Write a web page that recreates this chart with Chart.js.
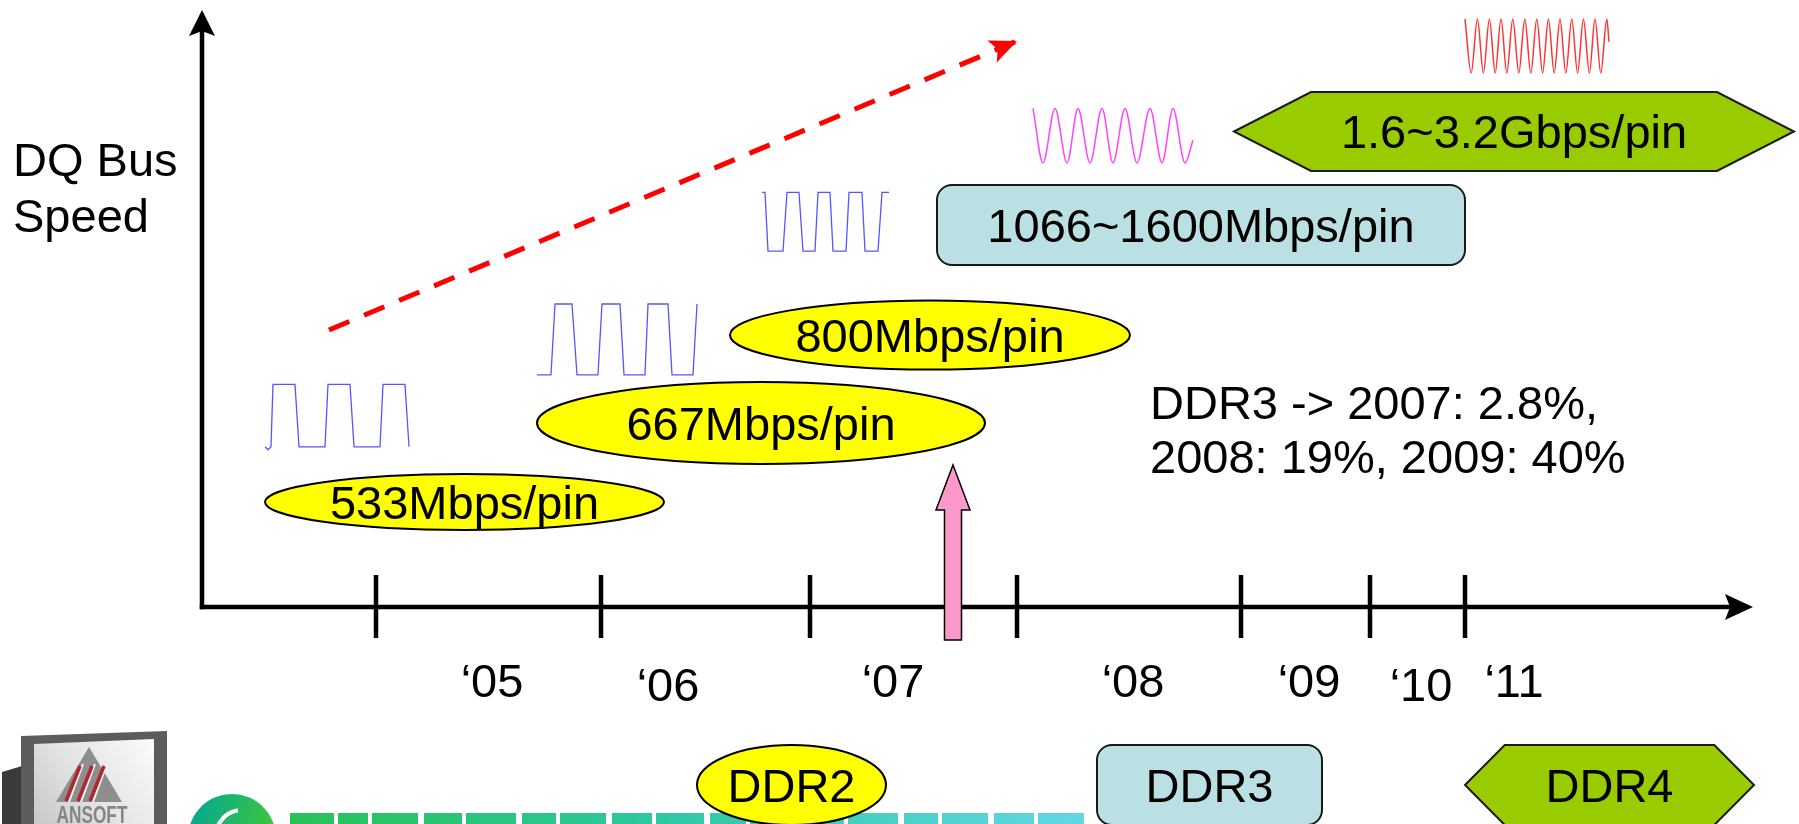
<!DOCTYPE html>
<html>
<head>
<meta charset="utf-8">
<title>DQ Bus Speed roadmap</title>
<script src="https://cdn.jsdelivr.net/npm/chart.js@4/dist/chart.umd.min.js"></script>
<style>
  html, body { margin: 0; padding: 0; background: #ffffff; }
  canvas { display: block; }
</style>
</head>
<body>
<canvas id="roadmap" width="1799" height="824"></canvas>
<script>
// ---- Timeline (x = calendar year, y = relative DQ bus speed) ----
const axisXEnd = 2011.755;
const axisYEnd = 99.5;
const tickYears = [2004.87, 2005.995, 2007.04, 2008.075, 2009.195, 2009.84, 2010.315];
const yearLabels = ['\u201805', '\u201806', '\u201807', '\u201808', '\u201809', '\u201810', '\u201811'];
const yearLabelX = [2005.45, 2006.33, 2007.455, 2008.655, 2009.535, 2010.095, 2010.56];
const yearLabelY = [-15, -15.67, -15, -15, -15, -15.67, -15];

// ---- Speed grades: label, memory family, years covered, speed band ----
const gradeLabel  = ['533Mbps/pin', '667Mbps/pin', '800Mbps/pin', '1066~1600Mbps/pin', '1.6~3.2Gbps/pin'];
const gradeFamily = ['DDR2', 'DDR2', 'DDR2', 'DDR3', 'DDR4'];
const gradeFrom   = [2004.315, 2005.675, 2006.64, 2007.675, 2009.16];
const gradeTo     = [2006.31, 2007.915, 2008.64, 2010.315, 2011.96];
const gradeLow    = [12.83, 23.83, 39.58, 57.0, 72.67];
const gradeHigh   = [22.17, 37.5, 51.08, 70.33, 85.83];

// ---- Family key under the timeline ----
const familyNames = ['DDR2', 'DDR3', 'DDR4'];
const familyFrom  = [2006.475, 2008.475, 2010.315];
const familyTo    = [2007.42, 2009.6, 2011.76];

// ---- Speed trend ----
const trendX = [2004.635, 2008.075];
const trendY = [46.17, 94.33];

// ---- DDR3 introduction marker ----
const ddr3LaunchYear = 2007.755;
const ddr3LaunchTop = 23.67;
const ddr3LaunchBottom = -5.5;

// ---- DDR3 adoption note ----
const noteLines = ['DDR3 -> 2007: 2.8%,', '2008: 19%, 2009: 40%'];
const axisTitle = ['DQ Bus', 'Speed'];

// ---- Sketched DQ waveforms for each speed grade ----
const sig533X = [2004.315, 2004.33, 2004.345, 2004.355, 2004.465, 2004.485, 2004.615, 2004.63, 2004.74, 2004.76, 2004.89, 2004.905, 2005.015, 2005.035];
const sig533Y = [26.7, 26.2, 26.7, 37.1, 37.1, 26.7, 26.7, 37.1, 37.1, 26.7, 26.7, 37.1, 37.1, 26.7];

const sig667X = [2005.675, 2005.745, 2005.765, 2005.85, 2005.875, 2005.98, 2006.0, 2006.09, 2006.11, 2006.215, 2006.23, 2006.33, 2006.35, 2006.455, 2006.475];
const sig667Y = [38.7, 38.7, 50.5, 50.5, 38.7, 38.7, 50.5, 50.5, 38.7, 38.7, 50.5, 50.5, 38.7, 38.7, 50.5];

const sig800X = [2006.8, 2006.815, 2006.83, 2006.905, 2006.925, 2006.985, 2007.005, 2007.065, 2007.08, 2007.14, 2007.155, 2007.22, 2007.235, 2007.3, 2007.315, 2007.38, 2007.4, 2007.435];
const sig800Y = [69.1, 69.1, 59.3, 59.3, 69.1, 69.1, 59.3, 59.3, 69.1, 69.1, 59.3, 59.3, 69.1, 69.1, 59.3, 59.3, 69.1, 69.1];

const sig1600X = [2008.155, 2008.205, 2008.265, 2008.325, 2008.38, 2008.44, 2008.5, 2008.555, 2008.615, 2008.675, 2008.74, 2008.8, 2008.855, 2008.915, 2008.955];
const sig1600Y = [83.1, 74.0, 83.1, 74.0, 83.1, 74.0, 83.1, 74.0, 83.1, 74.0, 83.1, 74.0, 83.1, 74.0, 77.8];

const sig3200X = [2010.315, 2010.346, 2010.377, 2010.407, 2010.437, 2010.466, 2010.495, 2010.524, 2010.554, 2010.584, 2010.614, 2010.644, 2010.674, 2010.703, 2010.732, 2010.761, 2010.79, 2010.819, 2010.849, 2010.878, 2010.907, 2010.937, 2010.965, 2010.994, 2011.024, 2011.035];
const sig3200Y = [98.0, 89.0, 98.0, 89.0, 98.0, 89.0, 98.0, 89.0, 98.0, 89.0, 98.0, 89.0, 98.0, 89.0, 98.0, 89.0, 98.0, 89.0, 98.0, 89.0, 98.0, 89.0, 98.0, 89.0, 98.0, 94.2];

// ---- Styles ----
const FONT = '"Liberation Sans", Arial, Helvetica, sans-serif';
const TEXT_PX = 47;
const familyStyle = {
  DDR2: { shape: 'ellipse', fill: '#ffff00', stroke: '#000000' },
  DDR3: { shape: 'rounded', fill: '#bbe0e3', stroke: '#1a1a1a' },
  DDR4: { shape: 'hexagon', fill: '#99cc00', stroke: '#1a1a1a' }
};

const zip = (xs, ys) => xs.map((x, i) => ({ x: x, y: ys[i] }));

function shapePath(ctx, kind, l, r, t, b) {
  ctx.beginPath();
  if (kind === 'ellipse') {
    ctx.ellipse((l + r) / 2, (t + b) / 2, (r - l) / 2, (b - t) / 2, 0, 0, Math.PI * 2);
  } else if (kind === 'rounded') {
    const rad = 15;
    ctx.moveTo(l + rad, t);
    ctx.lineTo(r - rad, t);
    ctx.arcTo(r, t, r, t + rad, rad);
    ctx.lineTo(r, b - rad);
    ctx.arcTo(r, b, r - rad, b, rad);
    ctx.lineTo(l + rad, b);
    ctx.arcTo(l, b, l, b - rad, rad);
    ctx.lineTo(l, t + rad);
    ctx.arcTo(l, t, l + rad, t, rad);
    ctx.closePath();
  } else {
    const d = (r - l) * 0.1375, m = (t + b) / 2;
    ctx.moveTo(l, m);
    ctx.lineTo(l + d, t);
    ctx.lineTo(r - d, t);
    ctx.lineTo(r, m);
    ctx.lineTo(r - d, b);
    ctx.lineTo(l + d, b);
    ctx.closePath();
  }
}

function drawBadge(ctx, family, label, l, r, t, b) {
  const st = familyStyle[family];
  shapePath(ctx, st.shape, l, r, t, b);
  ctx.fillStyle = st.fill;
  ctx.fill();
  ctx.lineWidth = 2;
  ctx.strokeStyle = st.stroke;
  ctx.stroke();
  ctx.fillStyle = '#000000';
  ctx.font = TEXT_PX + 'px ' + FONT;
  ctx.textAlign = 'center';
  ctx.textBaseline = 'alphabetic';
  ctx.fillText(label, (l + r) / 2, (t + b) / 2 + TEXT_PX * 0.355);
}

function arrowHead(ctx, tx, ty, ang, len, half, notch, fill) {
  const c = Math.cos(ang), s = Math.sin(ang);
  const bx = tx - c * len, by = ty - s * len;
  ctx.beginPath();
  ctx.moveTo(tx, ty);
  ctx.lineTo(bx - s * half, by + c * half);
  ctx.lineTo(tx - c * (len - notch), ty - s * (len - notch));
  ctx.lineTo(bx + s * half, by - c * half);
  ctx.closePath();
  ctx.fillStyle = fill;
  ctx.fill();
}

// Footer logos in the lower-left corner of the slide
function drawFooterLogos(ctx, H) {
  // ANSOFT badge
  ctx.fillStyle = '#3a3a3a';
  ctx.beginPath();
  ctx.moveTo(2, H - 52); ctx.lineTo(22, H - 58); ctx.lineTo(22, H); ctx.lineTo(2, H);
  ctx.closePath(); ctx.fill();
  ctx.fillStyle = '#5c5c5c';
  ctx.beginPath();
  ctx.moveTo(21, H - 88); ctx.lineTo(167, H - 93); ctx.lineTo(167, H); ctx.lineTo(21, H);
  ctx.closePath(); ctx.fill();
  const face = ctx.createLinearGradient(150, H - 84, 40, H);
  face.addColorStop(0, '#fafafa');
  face.addColorStop(0.55, '#e4e4e4');
  face.addColorStop(1, '#c9c9c9');
  ctx.fillStyle = face;
  ctx.beginPath();
  ctx.moveTo(34, H - 80); ctx.lineTo(154, H - 85); ctx.lineTo(154, H); ctx.lineTo(34, H);
  ctx.closePath(); ctx.fill();
  // triangle mark with red stripes
  ctx.fillStyle = '#8e8e8e';
  ctx.beginPath();
  ctx.moveTo(89, H - 77); ctx.lineTo(122, H - 22); ctx.lineTo(56, H - 22);
  ctx.closePath(); ctx.fill();
  ctx.strokeStyle = '#f4f4f4';
  ctx.lineWidth = 2;
  [[66, 80], [78, 92], [90, 104]].forEach(p => {
    ctx.beginPath(); ctx.moveTo(p[0] + 3, H - 22); ctx.lineTo(p[1] + 3, H - 60); ctx.stroke();
  });
  ctx.strokeStyle = '#b3262c';
  ctx.lineWidth = 3.5;
  [[66, 80], [78, 92], [90, 104]].forEach(p => {
    ctx.beginPath(); ctx.moveTo(p[0], H - 23); ctx.lineTo(p[1], H - 58); ctx.stroke();
  });
  ctx.save();
  ctx.fillStyle = '#858585';
  ctx.font = 'bold 21px ' + FONT;
  ctx.textAlign = 'center';
  ctx.textBaseline = 'alphabetic';
  ctx.translate(92, H - 1);
  ctx.scale(0.82, 1.15);
  ctx.fillText('ANSOFT', 0, 0);
  ctx.restore();

  // round green emblem
  const cg = ctx.createLinearGradient(188, H - 30, 276, H);
  cg.addColorStop(0, '#00a59b');
  cg.addColorStop(1, '#3fc63a');
  ctx.fillStyle = cg;
  ctx.beginPath(); ctx.arc(232, H + 14, 44, 0, Math.PI * 2); ctx.fill();
  ctx.strokeStyle = '#ffffff';
  ctx.lineWidth = 4;
  ctx.beginPath(); ctx.arc(242, H + 12, 26, Math.PI * 0.95, Math.PI * 1.45); ctx.stroke();

  // tops of the wordmark letters running off the bottom edge
  const band = ctx.createLinearGradient(290, 0, 1090, 0);
  band.addColorStop(0, '#27c255');
  band.addColorStop(0.45, '#2cc8a0');
  band.addColorStop(1, '#63d7e6');
  ctx.fillStyle = band;
  const blocks = [[290, 44], [338, 30], [372, 46], [424, 38], [466, 50], [522, 34], [560, 46], [612, 40],
                  [656, 48], [710, 36], [750, 46], [802, 42], [848, 50], [904, 34], [942, 46], [994, 40], [1038, 46]];
  blocks.forEach(bk => ctx.fillRect(bk[0], H - 11, bk[1], 11));
}

const roadmapPlugin = {
  id: 'roadmap',
  beforeDatasetsDraw(chart) {
    const ctx = chart.ctx;
    const sx = chart.scales.x, sy = chart.scales.y;
    const X = v => sx.getPixelForValue(v);
    const Y = v => sy.getPixelForValue(v);
    ctx.save();

    drawFooterLogos(ctx, chart.height);

    // axes
    const x0 = X(2004), y0 = Y(0);
    ctx.strokeStyle = '#000000';
    ctx.lineWidth = 4.5;
    ctx.lineCap = 'butt';
    ctx.beginPath();
    ctx.moveTo(x0, y0 + 2.25);
    ctx.lineTo(x0, Y(axisYEnd) + 20);
    ctx.stroke();
    arrowHead(ctx, x0, Y(axisYEnd), -Math.PI / 2, 26, 13, 5, '#000000');
    ctx.beginPath();
    ctx.moveTo(x0 - 2.25, y0);
    ctx.lineTo(X(axisXEnd) - 20, y0);
    ctx.stroke();
    arrowHead(ctx, X(axisXEnd), y0, 0, 28, 13, 5, '#000000');

    // year ticks and labels
    tickYears.forEach(t => {
      ctx.beginPath();
      ctx.moveTo(X(t), y0 - 32);
      ctx.lineTo(X(t), y0 + 31);
      ctx.stroke();
    });
    ctx.fillStyle = '#000000';
    ctx.font = TEXT_PX + 'px ' + FONT;
    ctx.textAlign = 'center';
    ctx.textBaseline = 'alphabetic';
    yearLabels.forEach((s, i) => ctx.fillText(s, X(yearLabelX[i]), Y(yearLabelY[i])));

    // axis title
    ctx.textAlign = 'left';
    ctx.fillText(axisTitle[0], X(2003.055), Y(71.83));
    ctx.fillText(axisTitle[1], X(2003.055), Y(62.5));

    // adoption note
    ctx.fillText(noteLines[0], X(2008.74), Y(31.33));
    ctx.fillText(noteLines[1], X(2008.74), Y(22.33));

    // speed grades
    gradeLabel.forEach((lab, i) => {
      drawBadge(ctx, gradeFamily[i], lab, X(gradeFrom[i]), X(gradeTo[i]), Y(gradeHigh[i]), Y(gradeLow[i]));
    });

    // family key
    familyNames.forEach((f, i) => {
      drawBadge(ctx, f, f, X(familyFrom[i]), X(familyTo[i]), Y(-23), Y(-36.33));
    });

    // DDR3 introduction marker
    const mx = X(ddr3LaunchYear), mt = Y(ddr3LaunchTop), mb = Y(ddr3LaunchBottom);
    const headLen = 45, headHalf = 17, shaftHalf = 8.5;
    ctx.beginPath();
    ctx.moveTo(mx, mt);
    ctx.lineTo(mx + headHalf, mt + headLen);
    ctx.lineTo(mx + shaftHalf, mt + headLen);
    ctx.lineTo(mx + shaftHalf, mb);
    ctx.lineTo(mx - shaftHalf, mb);
    ctx.lineTo(mx - shaftHalf, mt + headLen);
    ctx.lineTo(mx - headHalf, mt + headLen);
    ctx.closePath();
    ctx.fillStyle = '#ff99cc';
    ctx.fill();
    ctx.lineWidth = 1.5;
    ctx.strokeStyle = '#000000';
    ctx.lineJoin = 'miter';
    ctx.stroke();

    ctx.restore();
  },
  afterDatasetsDraw(chart) {
    const ctx = chart.ctx;
    const sx = chart.scales.x, sy = chart.scales.y;
    const x1 = sx.getPixelForValue(trendX[0]), y1 = sy.getPixelForValue(trendY[0]);
    const x2 = sx.getPixelForValue(trendX[1]), y2 = sy.getPixelForValue(trendY[1]);
    ctx.save();
    arrowHead(ctx, x2, y2, Math.atan2(y2 - y1, x2 - x1), 27, 12, 6, '#ff0000');
    ctx.restore();
  }
};

const squareWave = (xs, ys) => ({
  data: zip(xs, ys), showLine: true, borderColor: '#5656ff', borderWidth: 1.3,
  pointRadius: 0, tension: 0, clip: false, fill: false
});
const sineWave = (xs, ys, color) => ({
  data: zip(xs, ys), showLine: true, borderColor: color, borderWidth: 1.5,
  pointRadius: 0, cubicInterpolationMode: 'monotone', clip: false, fill: false
});

new Chart(document.getElementById('roadmap'), {
  type: 'scatter',
  data: {
    datasets: [
      squareWave(sig533X, sig533Y),
      squareWave(sig667X, sig667Y),
      squareWave(sig800X, sig800Y),
      sineWave(sig1600X, sig1600Y, '#ff44ff'),
      sineWave(sig3200X, sig3200Y, '#ff3333'),
      {
        data: zip(trendX, trendY), showLine: true, borderColor: '#ff0000', borderWidth: 5,
        borderDash: [22, 16], borderCapStyle: 'butt', pointRadius: 0, clip: false, fill: false
      }
    ]
  },
  options: {
    responsive: false,
    animation: false,
    devicePixelRatio: 1,
    layout: { padding: { left: 202, right: 17, top: 7, bottom: 217 } },
    scales: {
      x: { type: 'linear', min: 2004, max: 2011.9, display: false },
      y: { type: 'linear', min: 0, max: 100, display: false }
    },
    plugins: { legend: { display: false }, tooltip: { enabled: false } },
    events: []
  },
  plugins: [roadmapPlugin]
});
</script>
</body>
</html>
